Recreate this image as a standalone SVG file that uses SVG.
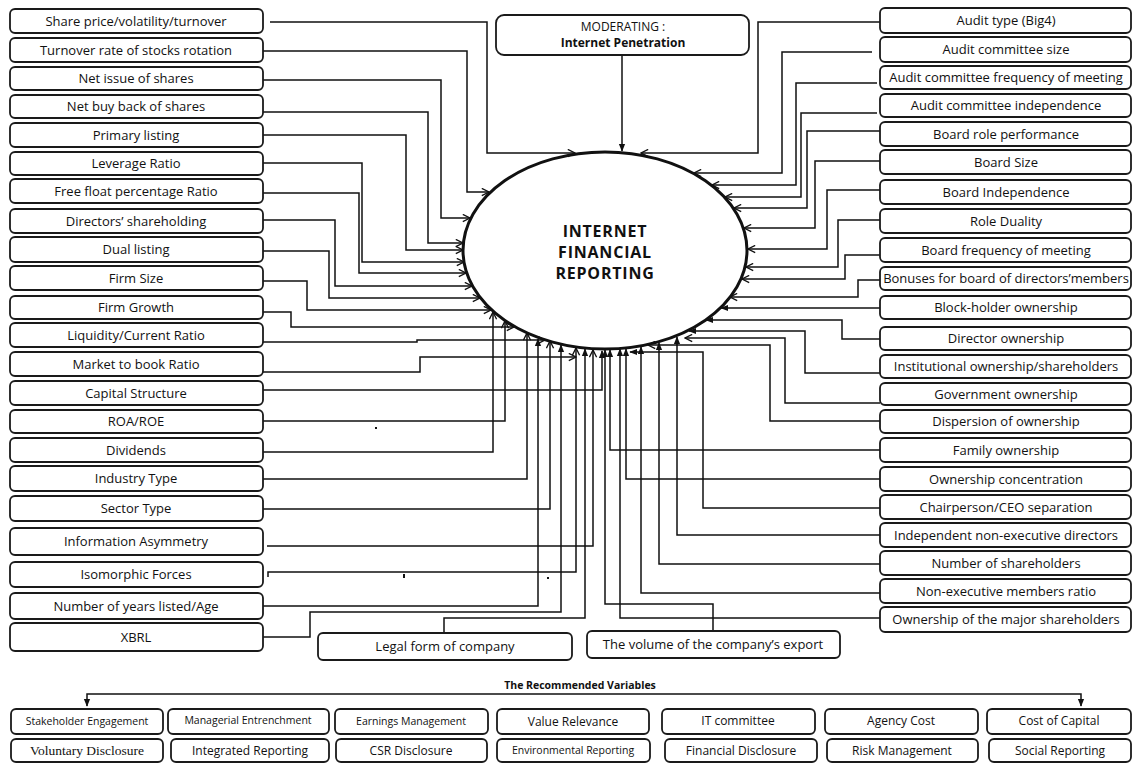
<svg xmlns="http://www.w3.org/2000/svg" width="1132" height="763" viewBox="0 0 1132 763">
<style>
.b{fill:#fff;stroke:#1a1a1a;stroke-width:1.8}
.t{font-family:"Open Sans","Liberation Sans",sans-serif;font-size:13px;fill:#111;text-anchor:middle}
.s{font-size:10.5px}
.m{font-size:12px}
.sf{font-family:"Liberation Serif",serif;font-size:13.5px}
.c{fill:none;stroke:#111;stroke-width:1.5}
.o{marker-end:url(#ao)}
.f{marker-end:url(#af)}
.big{font-family:"Open Sans","Liberation Sans",sans-serif;font-weight:bold;font-size:16px;letter-spacing:0.8px;fill:#111;text-anchor:middle}
</style>
<defs>
<marker id="ao" viewBox="0 0 10 10" refX="9" refY="5" markerWidth="9" markerHeight="9" markerUnits="userSpaceOnUse" orient="auto"><path d="M1,1 L9,5 L1,9" fill="none" stroke="#111" stroke-width="1.5"/></marker>
<marker id="af" viewBox="0 0 10 10" refX="9" refY="5" markerWidth="8" markerHeight="8" markerUnits="userSpaceOnUse" orient="auto"><path d="M0,1 L10,5 L0,9 Z" fill="#111"/></marker>
</defs>
<rect width="1132" height="763" fill="#fff"/>

<g id="connectors">
<path class="c o" d="M270,22 H487 V153 H575"/>
<path class="c o" d="M263,51 H467 V192 H489"/>
<path class="c o" d="M263,80 H441 V218 H470"/>
<path class="c o" d="M263,112 H428 V243 H463"/>
<path class="c o" d="M263,135 H406 V250 H463"/>
<path class="c o" d="M263,163 H362 V262 H464"/>
<path class="c o" d="M263,193 H359 V273 H466"/>
<path class="c o" d="M263,220 H335 V286 H472"/>
<path class="c o" d="M262,251 H329 V298 H480"/>
<path class="c o" d="M262,281 H307 V310 H491"/>
<path class="c o" d="M263,312 H291 V327 H514"/>
<path class="c o" d="M263,342 H417 V340 H545"/>
<path class="c o" d="M263,372 H420 V357 H576"/>
<path class="c f" d="M263,390 H602 V351"/>
<path class="c o" d="M263,421 H505 V321"/>
<path class="c o" d="M263,452 H493 V312"/>
<path class="c o" d="M263,479 H527 V333"/>
<path class="c o" d="M263,509 H550 V341"/>
<path class="c o" d="M267,546 H593 V350"/>
<path class="c o" d="M268,577 V572 H576 V348"/>
<path class="c f" d="M263,606 H538 V339"/>
<path class="c f" d="M263,637 H310 V612 H561 V345"/>
<path class="c f" d="M444,633 V618 H585 V349"/>
<path class="c f" d="M713,631 V604 H605 V350"/>
<path class="c f" d="M622,55 V151"/>
<path class="c o" d="M880,22 H758 V153 H641"/>
<path class="c o" d="M872,52 H782 V173 H694"/>
<path class="c o" d="M877,83 H796 V185 H712"/>
<path class="c o" d="M877,113 H801 V197 H725"/>
<path class="c o" d="M880,131 H807 V208 H734"/>
<path class="c o" d="M880,161 H815 V228 H744"/>
<path class="c o" d="M880,190 H827 V249 H748"/>
<path class="c o" d="M880,220 H838 V267 H746"/>
<path class="c o" d="M880,255 H845 V279 H742"/>
<path class="c o" d="M880,280 H858 V297 H730"/>
<path class="c f" d="M880,308 H721"/>
<path class="c f" d="M880,339 H842 V320 H706"/>
<path class="c f" d="M880,373 H805 V331 H689"/>
<path class="c o" d="M880,403 H785 V338 H685"/>
<path class="c o" d="M880,421 H770 V345 H648"/>
<path class="c f" d="M880,450 H610 V350"/>
<path class="c f" d="M880,479 H626 V349"/>
<path class="c f" d="M880,508 H703 V352 H630"/>
<path class="c f" d="M880,535 H677 V337"/>
<path class="c f" d="M880,564 H659 V343"/>
<path class="c f" d="M880,593 H641 V347"/>
<path class="c f" d="M880,618 H620 V349"/>
<path class="c f" d="M560,694 H87 V706"/>
<path class="c f" d="M560,694 H1081 V706"/>
<rect x="375" y="427" width="2" height="2" fill="#111"/>
<rect x="403" y="574" width="2" height="4" fill="#111"/>
<rect x="547" y="577" width="2" height="2" fill="#111"/>
</g>

<g id="ifr">
<ellipse cx="605" cy="250.5" rx="142" ry="98.5" fill="none" stroke="#111" stroke-width="3"/>
<text class="big" x="605" y="237">INTERNET</text>
<text class="big" x="605" y="258">FINANCIAL</text>
<text class="big" x="605" y="279">REPORTING</text>
</g>

<g id="moderating">
<rect class="b" x="496" y="15" width="253" height="40" rx="8"/>
<text class="t m" x="623" y="31" font-size="11.5px">MODERATING :</text>
<text class="t m" x="623" y="47" font-weight="bold" font-size="11.5px">Internet Penetration</text>
</g>

<g id="left-nodes">
<g id="n-share-price"><rect class="b" x="10" y="9" width="253" height="24" rx="5"/><text class="t" x="136" y="25.5">Share price/volatility/turnover</text></g>
<g id="n-turnover"><rect class="b" x="10" y="38" width="253" height="24" rx="5"/><text class="t" x="136" y="54.5">Turnover rate of stocks rotation</text></g>
<g id="n-net-issue"><rect class="b" x="10" y="67" width="253" height="23" rx="5"/><text class="t" x="136" y="83">Net issue of shares</text></g>
<g id="n-net-buy"><rect class="b" x="10" y="95" width="253" height="23" rx="5"/><text class="t" x="136" y="111">Net buy back of shares</text></g>
<g id="n-primary"><rect class="b" x="10" y="123" width="253" height="24" rx="5"/><text class="t" x="136" y="139.5">Primary listing</text></g>
<g id="n-leverage"><rect class="b" x="10" y="152" width="253" height="23" rx="5"/><text class="t" x="136" y="168">Leverage  Ratio</text></g>
<g id="n-free-float"><rect class="b" x="10" y="179" width="253" height="24" rx="5"/><text class="t" x="136" y="195.5">Free float percentage Ratio</text></g>
<g id="n-directors"><rect class="b" x="10" y="209" width="253" height="24" rx="5"/><text class="t" x="136" y="225.5">Directors’ shareholding</text></g>
<g id="n-dual"><rect class="b" x="10" y="237" width="253" height="25" rx="5"/><text class="t" x="136" y="254">Dual listing</text></g>
<g id="n-firm-size"><rect class="b" x="10" y="266" width="253" height="24" rx="5"/><text class="t" x="136" y="282.5">Firm Size</text></g>
<g id="n-firm-growth"><rect class="b" x="10" y="296" width="253" height="23" rx="5"/><text class="t" x="136" y="312">Firm Growth</text></g>
<g id="n-liquidity"><rect class="b" x="10" y="323" width="253" height="24" rx="5"/><text class="t" x="136" y="339.5">Liquidity/Current Ratio</text></g>
<g id="n-market"><rect class="b" x="10" y="352" width="253" height="24" rx="5"/><text class="t" x="136" y="368.5">Market to book Ratio</text></g>
<g id="n-capital"><rect class="b" x="10" y="381" width="253" height="24" rx="5"/><text class="t" x="136" y="397.5">Capital Structure</text></g>
<g id="n-roa"><rect class="b" x="10" y="410" width="253" height="23" rx="5"/><text class="t" x="136" y="426">ROA/ROE</text></g>
<g id="n-dividends"><rect class="b" x="10" y="438" width="253" height="24" rx="5"/><text class="t" x="136" y="454.5">Dividends</text></g>
<g id="n-industry"><rect class="b" x="10" y="466" width="253" height="25" rx="5"/><text class="t" x="136" y="483">Industry Type</text></g>
<g id="n-sector"><rect class="b" x="10" y="496" width="253" height="25" rx="5"/><text class="t" x="136" y="513">Sector Type</text></g>
<g id="n-info"><rect class="b" x="10" y="528" width="253" height="27" rx="5"/><text class="t" x="136" y="546">Information Asymmetry</text></g>
<g id="n-isomorphic"><rect class="b" x="10" y="562" width="253" height="25" rx="5"/><text class="t" x="136" y="579">Isomorphic Forces</text></g>
<g id="n-years"><rect class="b" x="10" y="593" width="253" height="26" rx="5"/><text class="t" x="136" y="610.5">Number of years listed/Age</text></g>
<g id="n-xbrl"><rect class="b" x="10" y="623" width="253" height="28" rx="5"/><text class="t" x="136" y="641.5">XBRL</text></g>
</g>

<g id="right-nodes">
<g id="n-audit-type"><rect class="b" x="880" y="8" width="251" height="25" rx="5"/><text class="t" x="1006" y="25">Audit type (Big4)</text></g>
<g id="n-ac-size"><rect class="b" x="880" y="37" width="251" height="25" rx="5"/><text class="t" x="1006" y="54">Audit committee size</text></g>
<g id="n-ac-freq"><rect class="b" x="880" y="66" width="251" height="23" rx="5"/><text class="t" x="1006" y="82" font-size="12.3px">Audit committee frequency of meeting</text></g>
<g id="n-ac-indep"><rect class="b" x="880" y="94" width="251" height="23" rx="5"/><text class="t" x="1006" y="110">Audit committee independence</text></g>
<g id="n-board-role"><rect class="b" x="880" y="122" width="251" height="24" rx="5"/><text class="t" x="1006" y="138.5">Board role performance</text></g>
<g id="n-board-size"><rect class="b" x="880" y="150" width="251" height="24" rx="5"/><text class="t" x="1006" y="166.5">Board Size</text></g>
<g id="n-board-indep"><rect class="b" x="880" y="180" width="251" height="24" rx="5"/><text class="t" x="1006" y="196.5">Board Independence</text></g>
<g id="n-role-duality"><rect class="b" x="880" y="209" width="251" height="24" rx="5"/><text class="t" x="1006" y="225.5">Role Duality</text></g>
<g id="n-board-freq"><rect class="b" x="880" y="238" width="251" height="24" rx="5"/><text class="t" x="1006" y="254.5">Board frequency of meeting</text></g>
<g id="n-bonuses"><rect class="b" x="880" y="267" width="251" height="23" rx="5"/><text class="t" x="1006" y="283" font-size="12px">Bonuses for board of directors’members</text></g>
<g id="n-block"><rect class="b" x="880" y="296" width="251" height="23" rx="5"/><text class="t" x="1006" y="312">Block-holder ownership</text></g>
<g id="n-director-own"><rect class="b" x="880" y="327" width="251" height="23" rx="5"/><text class="t" x="1006" y="343">Director ownership</text></g>
<g id="n-institutional"><rect class="b" x="880" y="355" width="251" height="23" rx="5"/><text class="t" x="1006" y="371" font-size="12.6px">Institutional ownership/shareholders</text></g>
<g id="n-government"><rect class="b" x="880" y="383" width="251" height="22" rx="5"/><text class="t" x="1006" y="398.5">Government ownership</text></g>
<g id="n-dispersion"><rect class="b" x="880" y="410" width="251" height="23" rx="5"/><text class="t" x="1006" y="426">Dispersion of ownership</text></g>
<g id="n-family"><rect class="b" x="880" y="438" width="251" height="24" rx="5"/><text class="t" x="1006" y="454.5">Family ownership</text></g>
<g id="n-concentration"><rect class="b" x="880" y="467" width="251" height="24" rx="5"/><text class="t" x="1006" y="483.5">Ownership concentration</text></g>
<g id="n-chair"><rect class="b" x="880" y="495" width="251" height="24" rx="5"/><text class="t" x="1006" y="511.5">Chairperson/CEO separation</text></g>
<g id="n-ined"><rect class="b" x="880" y="523" width="251" height="24" rx="5"/><text class="t" x="1006" y="539.5" font-size="12.6px">Independent non-executive directors</text></g>
<g id="n-num-sh"><rect class="b" x="880" y="551" width="251" height="24" rx="5"/><text class="t" x="1006" y="567.5">Number of shareholders</text></g>
<g id="n-nonexec"><rect class="b" x="880" y="579" width="251" height="24" rx="5"/><text class="t" x="1006" y="595.5">Non-executive members ratio</text></g>
<g id="n-major"><rect class="b" x="880" y="607" width="251" height="25" rx="5"/><text class="t" x="1006" y="624" font-size="12.6px">Ownership of the major shareholders</text></g>
</g>

<g id="bottom-nodes">
<g id="n-legal"><rect class="b" x="318" y="633" width="254" height="27" rx="5"/><text class="t" x="445" y="651">Legal form of company</text></g>
<g id="n-export"><rect class="b" x="587" y="631" width="253" height="27" rx="5"/><text class="t" x="713" y="648.5">The volume of the company’s export</text></g>
</g>

<g id="recommended">
<text x="580" y="689" font-family="Open Sans, Liberation Sans, sans-serif" font-weight="bold" font-size="10.5" text-anchor="middle" fill="#111">The Recommended Variables</text>
<g id="r-stakeholder"><rect class="b" x="11" y="709" width="152" height="25" rx="5"/><text class="t s" x="87" y="725">Stakeholder Engagement</text></g>
<g id="r-managerial"><rect class="b" x="168" y="709" width="161" height="25" rx="5"/><text class="t s" x="248" y="724">Managerial Entrenchment</text></g>
<g id="r-earnings"><rect class="b" x="335" y="709" width="153" height="25" rx="5"/><text class="t s" x="411" y="725">Earnings Management</text></g>
<g id="r-value"><rect class="b" x="497" y="709" width="152" height="25" rx="5"/><text class="t m" x="573" y="726">Value Relevance</text></g>
<g id="r-it"><rect class="b" x="662" y="709" width="153" height="25" rx="5"/><text class="t m" x="738" y="725">IT committee</text></g>
<g id="r-agency"><rect class="b" x="825" y="709" width="153" height="25" rx="5"/><text class="t m" x="901" y="725">Agency Cost</text></g>
<g id="r-cost"><rect class="b" x="987" y="709" width="144" height="25" rx="5"/><text class="t m" x="1059" y="725">Cost of Capital</text></g>
<g id="r-voluntary"><rect class="b" x="11" y="739" width="152" height="23" rx="5"/><text class="t sf" x="87" y="755">Voluntary  Disclosure</text></g>
<g id="r-integrated"><rect class="b" x="171" y="739" width="158" height="23" rx="5"/><text class="t m" x="250" y="755">Integrated Reporting</text></g>
<g id="r-csr"><rect class="b" x="336" y="739" width="151" height="23" rx="5"/><text class="t m" x="411" y="755">CSR Disclosure</text></g>
<g id="r-env"><rect class="b" x="497" y="739" width="153" height="23" rx="5"/><text class="t s" x="573" y="754">Environmental Reporting</text></g>
<g id="r-financial"><rect class="b" x="665" y="739" width="152" height="23" rx="5"/><text class="t m" x="741" y="755">Financial Disclosure</text></g>
<g id="r-risk"><rect class="b" x="827" y="739" width="151" height="23" rx="5"/><text class="t m" x="902" y="755">Risk Management</text></g>
<g id="r-social"><rect class="b" x="989" y="739" width="142" height="23" rx="5"/><text class="t m" x="1060" y="755">Social Reporting</text></g>
</g>
</svg>
